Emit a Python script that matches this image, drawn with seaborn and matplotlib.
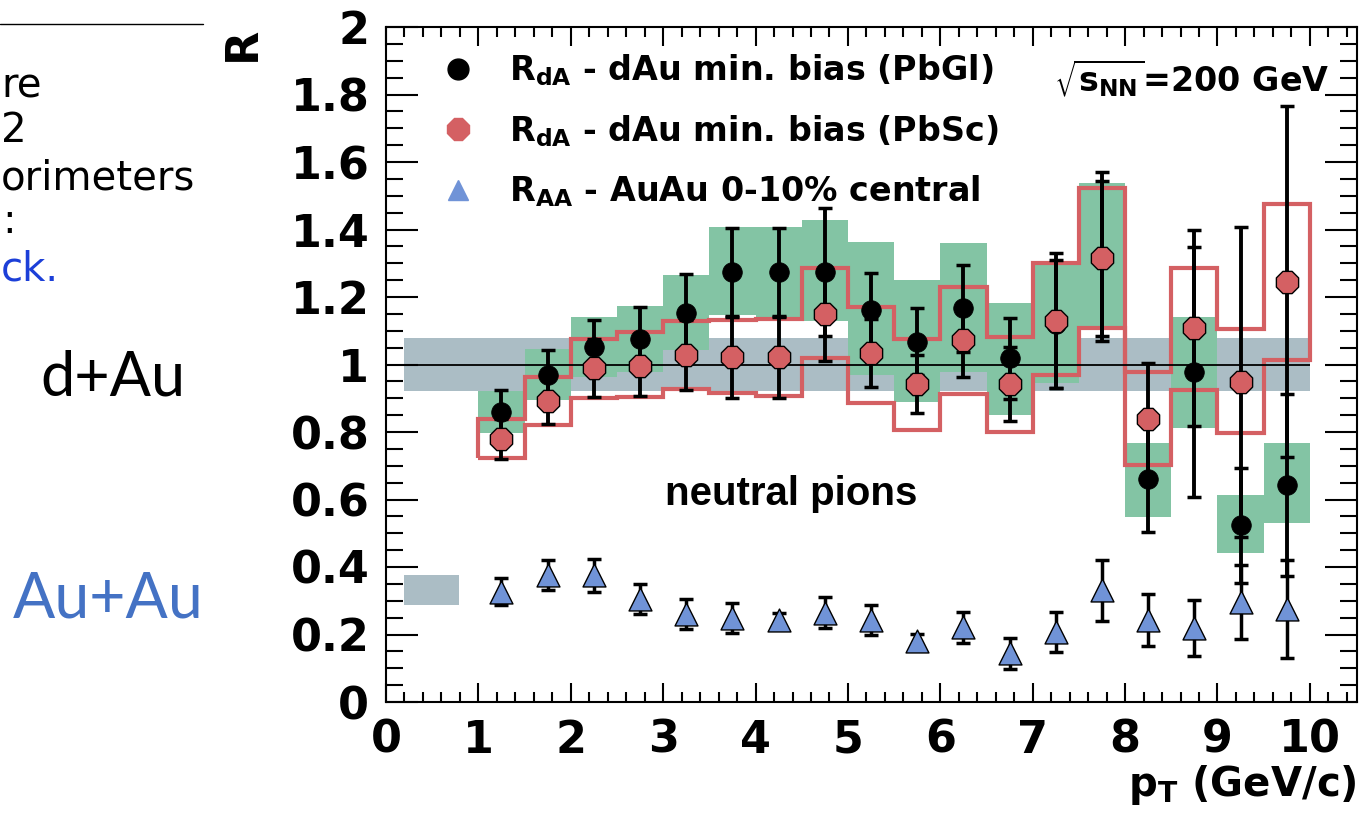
import numpy as np
import pandas as pd
import matplotlib
matplotlib.use("Agg")
import matplotlib.pyplot as plt
import seaborn as sns
from matplotlib.lines import Line2D
from matplotlib.ticker import MultipleLocator, FixedLocator, FixedFormatter

# ---------------- data ----------------
pt = [1.25, 1.75, 2.25, 2.75, 3.25, 3.75, 4.25, 4.75, 5.25,
      5.75, 6.25, 6.75, 7.25, 7.75, 8.25, 8.75, 9.25, 9.75]
bin_lo = [1.0, 1.5, 2.0, 2.5, 3.0, 3.5, 4.0, 4.5, 5.0,
          5.5, 6.0, 6.5, 7.0, 7.5, 8.0, 8.5, 9.0, 9.5]
bin_edges = bin_lo + [10.0]
bin_width = 0.5

# R_dA PbGl (black)
rda_pbgl = [0.86, 0.968, 1.051, 1.075, 1.153, 1.273, 1.273, 1.273, 1.161,
            1.068, 1.166, 1.018, 1.12, 1.32, 0.66, 0.978, 0.524, 0.643]
rda_pbgl_err = [0.064, 0.075, 0.08, 0.095, 0.115, 0.13, 0.13, 0.19, 0.11,
                0.10, 0.13, 0.12, 0.19, 0.25, 0.155, 0.37, 0.17, 0.27]
pbgl_sys_lo = [0.797, 0.895, 0.964, 0.979, 1.043, 1.147, 1.13, 1.13, 0.969,
               0.89, 0.979, 0.85, 0.945, 1.107, 0.549, 0.811, 0.441, 0.53]
pbgl_sys_hi = [0.922, 1.046, 1.14, 1.173, 1.265, 1.408, 1.408, 1.428, 1.363,
               1.25, 1.36, 1.182, 1.307, 1.539, 0.766, 1.14, 0.613, 0.766]

# R_dA PbSc (red)
rda_pbsc = [0.78, 0.893, 0.99, 0.996, 1.028, 1.022, 1.022, 1.15, 1.034,
            0.942, 1.072, 0.942, 1.13, 1.315, 0.838, 1.108, 0.948, 1.245]
rda_pbsc_err = [0.06, 0.07, 0.085, 0.09, 0.105, 0.12, 0.12, 0.14, 0.10,
                0.086, 0.11, 0.11, 0.2, 0.23, 0.165, 0.29, 0.46, 0.52]
pbsc_sys_lo = [0.722, 0.821, 0.90, 0.905, 0.927, 0.916, 0.907, 1.018, 0.887,
               0.806, 0.914, 0.80, 0.969, 1.107, 0.702, 0.924, 0.798, 1.013]
pbsc_sys_hi = [0.84, 0.964, 1.075, 1.097, 1.13, 1.132, 1.135, 1.287, 1.171,
               1.075, 1.23, 1.082, 1.30, 1.523, 0.979, 1.285, 1.104, 1.476]

# R_AA AuAu 0-10% central (blue triangles)
raa = [0.326, 0.377, 0.375, 0.306, 0.26, 0.249, 0.244, 0.265, 0.243,
       0.181, 0.221, 0.144, 0.207, 0.331, 0.244, 0.218, 0.297, 0.276]
raa_err = [0.04, 0.045, 0.048, 0.045, 0.044, 0.045, 0.02, 0.047, 0.044,
           0.02, 0.047, 0.045, 0.06, 0.09, 0.077, 0.083, 0.11, 0.145]

# normalisation bands
dau_norm_center, dau_norm_err = 1.0, 0.078
dau_norm_x = [0.2, 10.0]
auau_norm_center, auau_norm_err = 0.332, 0.045
auau_norm_x = [0.2, 0.79]

x_ticks = [0, 1, 2, 3, 4, 5, 6, 7, 8, 9, 10]
x_tick_labels = ["0", "1", "2", "3", "4", "5", "6", "7", "8", "9", "10"]
y_ticks = [0, 0.2, 0.4, 0.6, 0.8, 1.0, 1.2, 1.4, 1.6, 1.8, 2.0]
y_tick_labels = ["0", "0.2", "0.4", "0.6", "0.8", "1", "1.2", "1.4", "1.6", "1.8", "2"]

legend_labels = [r"$\mathbf{R_{dA}}$ - dAu min. bias (PbGl)",
                 r"$\mathbf{R_{dA}}$ - dAu min. bias (PbSc)",
                 r"$\mathbf{R_{AA}}$ - AuAu 0-10% central"]

# ---------------- style ----------------
sns.set_style("ticks")
plt.rcParams["font.family"] = ["DejaVu Sans"]
plt.rcParams["mathtext.fontset"] = "dejavusans"
for key in ["text.color", "axes.labelcolor", "xtick.color", "ytick.color",
            "xtick.labelcolor", "ytick.labelcolor", "axes.edgecolor"]:
    plt.rcParams[key] = "black"

GREEN = "#83c4a4"
RED = "#d46063"
BAND = "#abbdc5"
TRI = "#7093d7"

W, H = 1370, 821
fig = plt.figure(figsize=(W / 100, H / 100), dpi=100)
fig.patch.set_facecolor("white")
ax = fig.add_axes([386 / W, 1 - 702 / H, (1357 - 386) / W, (702 - 27) / H])
ax.set_facecolor("white")

df = pd.DataFrame({"pt": pt, "bin_lo": bin_lo,
                   "pbgl": rda_pbgl, "pbgl_err": rda_pbgl_err,
                   "pbgl_lo": pbgl_sys_lo, "pbgl_hi": pbgl_sys_hi,
                   "pbsc": rda_pbsc, "pbsc_err": rda_pbsc_err,
                   "pbsc_lo": pbsc_sys_lo, "pbsc_hi": pbsc_sys_hi,
                   "raa": raa, "raa_err": raa_err})

# normalisation bands
ax.fill_between(dau_norm_x, dau_norm_center - dau_norm_err, dau_norm_center + dau_norm_err,
                color=BAND, lw=0, zorder=0.5)
ax.fill_between(auau_norm_x, auau_norm_center - auau_norm_err, auau_norm_center + auau_norm_err,
                color=BAND, lw=0, zorder=0.5)

# PbGl systematic boxes (green)
ax.bar(df["bin_lo"], df["pbgl_hi"] - df["pbgl_lo"], bottom=df["pbgl_lo"],
       width=bin_width, align="edge", color=GREEN, lw=0, zorder=1)
# PbSc systematic envelope (red outline: upper and lower step lines)
ax.stairs(pbsc_sys_hi, bin_edges, baseline=pbsc_sys_lo, fill=False,
          edgecolor=RED, lw=3.0, zorder=2)

# unity line
ax.hlines(1.0, 0, 10, color="black", lw=1.3, zorder=2.5)

# error bars and markers
ax.errorbar(df["pt"], df["pbgl"], yerr=df["pbgl_err"], fmt="none", ecolor="black",
            elinewidth=2.8, capsize=5, capthick=2.5, zorder=3)
sns.scatterplot(data=df, x="pt", y="pbgl", ax=ax, marker="o", s=200, color="black",
                edgecolor="black", linewidth=0.5, zorder=4, legend=False)
ax.errorbar(df["pt"], df["pbsc"], yerr=df["pbsc_err"], fmt="none", ecolor="black",
            elinewidth=2.8, capsize=5, capthick=2.5, zorder=5)
sns.scatterplot(data=df, x="pt", y="pbsc", ax=ax, marker="8", s=300, color=RED,
                edgecolor="black", linewidth=1.0, zorder=6, legend=False)
ax.errorbar(df["pt"], df["raa"], yerr=df["raa_err"], fmt="none", ecolor="black",
            elinewidth=2.5, capsize=5, capthick=2.5, zorder=5)
sns.scatterplot(data=df, x="pt", y="raa", ax=ax, marker="^", s=272, color=TRI,
                edgecolor="black", linewidth=1.0, zorder=6, legend=False)

# axes
ax.set_xlim(0, 10.51)
ax.set_ylim(0, 2)
ax.xaxis.set_major_locator(FixedLocator(x_ticks))
ax.xaxis.set_major_formatter(FixedFormatter(x_tick_labels))
ax.yaxis.set_major_locator(FixedLocator(y_ticks))
ax.yaxis.set_major_formatter(FixedFormatter(y_tick_labels))
ax.xaxis.set_minor_locator(MultipleLocator(0.2))
ax.yaxis.set_minor_locator(MultipleLocator(0.05))
ax.tick_params(axis="both", which="both", direction="in", top=True, right=True,
               color="black", labelcolor="black")
ax.tick_params(axis="x", which="major", length=14, width=1.5, pad=12, labelsize=32)
ax.tick_params(axis="x", which="minor", length=7, width=1.5)
ax.tick_params(axis="y", which="major", length=23, width=1.5, pad=12, labelsize=32)
ax.tick_params(axis="y", which="minor", length=12, width=1.5)
for lab in ax.get_xticklabels() + ax.get_yticklabels():
    lab.set_fontweight("bold")
for sp in ax.spines.values():
    sp.set_linewidth(1.5)
    sp.set_color("black")

ax.set_xlabel(r"$\mathbf{p_T}$ (GeV/c)", fontsize=29, fontweight="bold", loc="right",
              color="black")
ax.xaxis.set_label_coords(1.0, -0.09)
ax.set_ylabel("R", fontsize=32, fontweight="bold", loc="top", color="black")
ax.yaxis.set_label_coords(-0.126, 1.0)

# legend
handles = [Line2D([], [], marker="o", linestyle="none", color="black", markersize=15),
           Line2D([], [], marker="8", linestyle="none", color=RED, markersize=16.5),
           Line2D([], [], marker="^", linestyle="none", color=TRI, markersize=15)]
ax.legend(handles, legend_labels, loc="upper left", bbox_to_anchor=(0.0566, 0.962),
          frameon=False, handlelength=1.0, handletextpad=1.05, borderpad=0,
          borderaxespad=0, labelspacing=0.74,
          prop={"family": "DejaVu Sans", "weight": "bold", "size": 24})

# annotations
ax.text(0.972, 0.924, r"$\sqrt{\mathbf{s_{NN}}}$=200 GeV", transform=ax.transAxes,
        ha="right", va="center", fontsize=24, fontweight="bold")
ax.text(3.02, 0.584, "neutral pions", ha="left", va="baseline",
        fontsize=29, fontweight="bold", family="Liberation Sans")

# slide fragments on the left
def fx(px):
    return px / W

def fy(py):
    return 1 - py / H

fig.add_artist(Line2D([0, fx(203)], [fy(24), fy(24)], color="black", lw=1.0))
slide_font = dict(fontsize=29, family="DejaVu Sans", fontweight="normal", va="baseline", ha="left")
fig.text(fx(1), fy(97), "re", color="black", **slide_font)
fig.text(fx(1), fy(142), "2", color="black", **slide_font)
fig.text(fx(1), fy(190), "orimeters", color="black", **slide_font)
fig.text(fx(2), fy(233), ":", color="black", **slide_font)
fig.text(fx(1), fy(280), "ck.", color="#1c3fd8", **slide_font)
fig.text(fx(40), fy(395), "d+Au", color="black", fontsize=44, family="Lato",
         ha="left", va="baseline")
fig.text(fx(13), fy(618), "Au+Au", color="#4472c4", fontsize=45, family="Lato",
         ha="left", va="baseline")

fig.savefig("out.png", dpi=100)
